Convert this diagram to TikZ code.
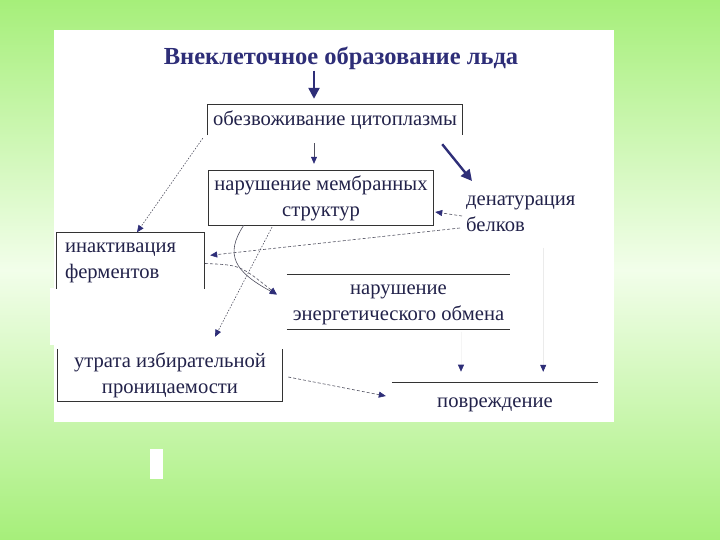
\documentclass[tikz,border=0pt]{standalone}
\usepackage{fontspec}
\setmainfont{Liberation Serif}
\usetikzlibrary{arrows.meta}
\definecolor{navy}{HTML}{2E2E78}
\definecolor{txt}{HTML}{22224A}
\definecolor{gA}{HTML}{A6EF7A}
\definecolor{gM}{HTML}{F2FEEA}
\definecolor{lin}{HTML}{505060}
\begin{document}
\begin{tikzpicture}[x=1pt,y=-1pt,
  lbl/.style={font=\fontsize{20.6}{26}\selectfont, text=txt, inner sep=0pt, align=center},
  border/.style={draw=black!80, line width=0.7pt},
  tip/.style={-{Triangle[length=7pt,width=6pt,color=navy]}},
  heavy/.style={navy, line width=2.4pt, -{Triangle[length=11pt,width=11pt]}},
  conn/.style={lin, line width=0.6pt, tip},
  dashconn/.style={conn, dash pattern=on 3pt off 2pt},
  dotconn/.style={conn, dash pattern=on 1.5pt off 1.5pt},
  faint/.style={black!8, line width=0.6pt, tip}]
\useasboundingbox (0,0) rectangle (720,540);
\begin{scope}[y=1pt]
\shade[top color=gA, bottom color=gA, middle color=gM] (0,-540) rectangle (720,0);
\end{scope}
\fill[white] (54,30) rectangle (614,422);
\fill[white] (50,288) rectangle (290,345);
\fill[white] (150,449) rectangle (163,479);

\coordinate (c314) at (314,0);
\node[lbl, text=navy, font=\fontsize{24.5}{28}\selectfont\bfseries] (title) at (341,58) {Внеклеточное образование льда};

\node[lbl, minimum width=254pt, minimum height=30pt] (b1) at (335,120) {\strut обезвоживание цитоплазмы};
\draw[border] (b1.south west) -- (b1.north west) -- (b1.north east) -- (b1.south east);

\node[lbl, minimum width=224pt, minimum height=54pt] (b2) at (321,198) {\strut нарушение мембранных\\\strut структур};
\draw[border] (b2.south west) rectangle (b2.north east);

\node[lbl, align=left, anchor=west] (den) at (466,213) {\strut денатурация\\\strut белков};

\node[lbl, align=left, text width=131pt, inner xsep=8pt, minimum height=56pt] (b3) at (130.5,260.5) {\strut инактивация\\\strut ферментов};
\draw[border] (b3.south west) -- (b3.north west) -- (b3.north east) -- (b3.south east);

\node[lbl, minimum width=223pt, minimum height=55pt] (b4) at (398.5,302) {\strut нарушение\\\strut энергетического обмена};
\draw[border] (b4.north west) -- (b4.north east);
\draw[border] (b4.south west) -- (b4.south east);

\node[lbl, minimum width=224pt, minimum height=52pt] (b5) at (170,375) {\strut утрата избирательной\\\strut проницаемости};
\draw[border] (b5.north west) -- (b5.south west) -- (b5.south east) -- (b5.north east);

\node[lbl, minimum width=206pt, minimum height=38pt] (b6) at (495,402) {\strut повреждение};
\draw[border] (b6.north west) -- (b6.north east);

% connectors
\draw[heavy, shorten <=1pt, shorten >=6pt] (title.south -| c314) -- (b1.north -| c314);
\draw[conn, shorten <=8pt, shorten >=7pt] (b1.south -| c314) -- (b2.north -| c314);
\draw[heavy] ([shift={(-20,9)}]b1.south east) -- ([shift={(6,-32)}]den.west);
\draw[dashconn] ([shift={(-4,3)}]den.west) -- ([shift={(2,14)}]b2.east);
\draw[dashconn] ([shift={(-6,15)}]den.west) -- ([shift={(6,23)}]b3.north east);
\draw[dotconn] ([shift={(-5,3)}]b1.south west) -- ([shift={(6.5,0)}]b3.north);
\draw[conn] ([shift={(35,0)}]b2.south west) .. controls (224,255) and (235,272) .. ([shift={(-10,-7.5)}]b4.west);
\draw[dashconn] ([shift={(1,3)}]b3.east) .. controls (240,265) .. ([shift={(-10,-7.5)}]b4.west);
\draw[dotconn] ([shift={(-49,2)}]b2.south) -- ([shift={(45,-12)}]b5.north);
\draw[dashconn] ([shift={(6,2)}]b5.east) -- ([shift={(-6,-6)}]b6.west);
\draw[faint] ([shift={(-55,-135)}]b6.north east) -- ([shift={(-55,-11)}]b6.north east);
\draw[black!4, line width=0.6pt, tip] ([shift={(62.5,2)}]b4.south) -- ([shift={(62.5,42)}]b4.south);
\end{tikzpicture}
\end{document}
